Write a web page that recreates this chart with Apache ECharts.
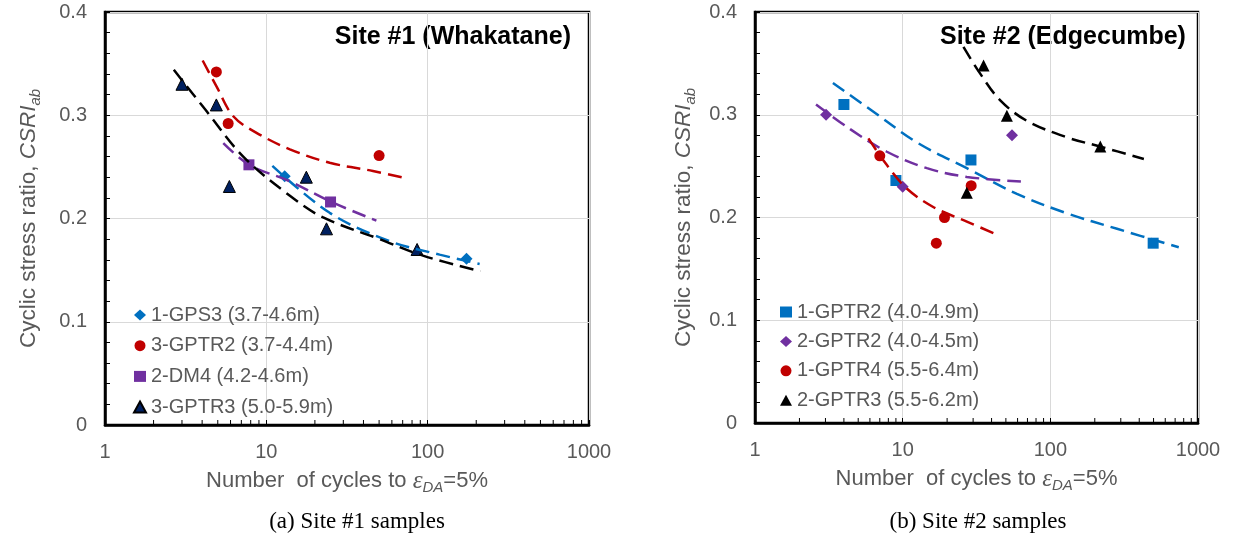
<!DOCTYPE html>
<html><head><meta charset="utf-8">
<script src="https://cdn.jsdelivr.net/npm/echarts@6/dist/echarts.min.js"></script>
<style>html,body{margin:0;padding:0;background:#fff}#c{width:1249px;height:542px}</style>
</head><body><div id="c"></div>
<script>
// ---- Site #1 (Whakatane) measured points [cycles, CSR] ----
const s1Names = ['1-GPS3 (3.7-4.6m)', '3-GPTR2 (3.7-4.4m)', '2-DM4 (4.2-4.6m)', '3-GPTR3 (5.0-5.9m)'];
const s1_GPS3  = [[13.0,0.241],[174,0.161]];
const s1_GPTR2 = [[4.9,0.342],[5.8,0.292],[50,0.261]];
const s1_DM4   = [[7.8,0.252],[25,0.216]];
const s1_GPTR3 = [[3.0,0.330],[4.9,0.310],[5.9,0.231],[17.7,0.240],[23.6,0.190],[86,0.170]];
// trend lines
const s1_GPS3_fit  = [[10.9,0.251],[24.7,0.2055],[58.2,0.178],[118.6,0.165],[210,0.156]];
const s1_GPTR2_fit = [[4.03,0.353],[4.91,0.328],[6.24,0.299],[8.69,0.283],[14.0,0.267],[24.7,0.254],[45.8,0.246],[73.1,0.239]];
const s1_DM4_fit   = [[5.41,0.273],[7.83,0.252],[14.0,0.236],[25.3,0.216],[48.1,0.198]];
const s1_GPTR3_fit = [[2.67,0.344],[4.16,0.306],[7.19,0.260],[14.0,0.222],[22.5,0.201],[50.5,0.180],[93.5,0.164],[212,0.149]];

// ---- Site #2 (Edgecumbe) ----
const s2Names = ['1-GPTR2 (4.0-4.9m)', '2-GPTR2 (4.0-4.5m)', '1-GPTR4 (5.5-6.4m)', '2-GPTR3 (5.5-6.2m)'];
const s2_1GPTR2 = [[4.0,0.310],[9.0,0.236],[29,0.256],[497,0.175]];
const s2_2GPTR2 = [[3.03,0.300],[10,0.230],[55,0.280]];
const s2_1GPTR4 = [[7.0,0.260],[16.9,0.175],[19.2,0.200],[29.1,0.231]];
const s2_2GPTR3 = [[27.2,0.224],[35.3,0.348],[50.8,0.299],[218,0.269]];
const s2_1GPTR2_fit = [[3.37,0.331],[6.34,0.303],[12.5,0.273],[27.2,0.248],[59.4,0.223],[129.7,0.204],[283,0.189],[741,0.171]];
const s2_2GPTR2_fit = [[2.59,0.310],[4.41,0.286],[7.82,0.264],[14.6,0.248],[27.2,0.2395],[63.2,0.235]];
const s2_1GPTR4_fit = [[5.86,0.277],[7.82,0.251],[10.7,0.228],[16.2,0.210],[27.2,0.196],[42.4,0.184]];
const s2_2GPTR3_fit = [[25.8,0.366],[33.5,0.340],[45.8,0.314],[69.5,0.294],[129.7,0.278],[218,0.269],[430,0.257]];

// axis ticks
const xMinorTicks = [2,3,4,5,6,7,8,9,20,30,40,50,60,70,80,90,200,300,400,500,600,700,800,900];
const captions = ['(a) Site #1 samples', '(b) Site #2 samples'];
const siteTitles = ['Site #1 (Whakatane)', 'Site #2 (Edgecumbe)'];

const FONT = '"Liberation Sans", Arial, sans-serif';
const SERIF = '"Liberation Serif", "Times New Roman", serif';
const GRAY = '#595959';
const C = {blue:'#0070C0', red:'#C00000', purple:'#7030A0', navy:'#002060', black:'#000000'};

function xAxisDef(gi){
  return {
    type:'log', logBase:10, min:1, max:1000, gridIndex:gi,
    axisLine:{show:true, lineStyle:{color:'#000', width:2.5}},
    axisTick:{show:true, inside:true, length:5, lineStyle:{color:'#000', width:1}},
    axisLabel:{color:GRAY, fontSize:20, fontFamily:FONT, margin:17, formatter:v=>String(v)},
    splitLine:{show:true, lineStyle:{color:'#D9D9D9', width:1}},
    name:'Number  of cycles to {e|ε}{s|DA}=5%',
    nameLocation:'middle', nameGap:42,
    nameTextStyle:{color:GRAY, fontSize:22, fontFamily:FONT,
      rich:{e:{fontSize:25, fontStyle:'italic', fontFamily:SERIF, color:GRAY},
            s:{fontSize:15, fontStyle:'italic', fontFamily:FONT, color:GRAY, padding:[13,0,0,0]}}}
  };
}
function yAxisDef(gi, gap){
  return {
    type:'value', min:0, max:0.4, interval:0.1, gridIndex:gi,
    axisLine:{show:true, lineStyle:{color:'#000', width:2.5}},
    axisTick:{show:true, inside:true, length:5, lineStyle:{color:'#000', width:1}},
    minorTick:{show:true, splitNumber:5, length:5, lineStyle:{color:'#000', width:1}},
    axisLabel:{color:GRAY, fontSize:20, fontFamily:FONT, margin:18,
      formatter:v=> v===0 ? '0' : String(+v.toFixed(1))},
    splitLine:{show:true, lineStyle:{color:'#D9D9D9', width:1}},
    name:'Cyclic stress ratio, {i|CSRI}{s|ab}',
    nameLocation:'middle', nameGap:gap,
    nameTextStyle:{color:GRAY, fontSize:22.5, fontFamily:FONT,
      rich:{i:{fontSize:22.5, fontStyle:'italic', fontFamily:FONT, color:GRAY},
            s:{fontSize:15, fontStyle:'italic', fontFamily:FONT, color:GRAY, padding:[13,0,0,0]}}}
  };
}
function scatter(name, gi, data, symbol, color, size, border){
  return {type:'scatter', name, xAxisIndex:gi, yAxisIndex:gi, data, symbol, symbolSize:size, z:3,
    itemStyle:{color, borderColor: border || color, borderWidth: border ? 1 : 0, opacity:1}};
}
function fit(gi, data, color){
  return {type:'line', xAxisIndex:gi, yAxisIndex:gi, data, smooth:0.35, symbol:'none', z:4, silent:true,
    lineStyle:{color, width:2.5, type:[14,7]}};
}
function minor(gi){
  return {type:'custom', xAxisIndex:gi, yAxisIndex:gi, silent:true, z:5,
    data: xMinorTicks.map(v=>[v,0]),
    renderItem:(params, api)=>{
      const p = api.coord([api.value(0), 0]);
      return {type:'line', shape:{x1:p[0], y1:p[1], x2:p[0], y2:p[1]-5}, style:{stroke:'#000', lineWidth:1}};
    }};
}
function legendDef(names, left, top, gap){
  return {data:names, orient:'vertical', left, top, padding:0, itemWidth:12, itemHeight:11, itemGap:gap,
    textStyle:{color:GRAY, fontSize:20, fontFamily:FONT}, selectedMode:false};
}

const chart = echarts.init(document.getElementById('c'), null, {renderer:'canvas'});
chart.setOption({
  backgroundColor:'#fff',
  animation:false,
  grid:[
    {left:105, top:12, width:484, height:413, show:true, borderColor:'#000', borderWidth:2.5, backgroundColor:'transparent'},
    {left:755, top:12, width:443, height:411, show:true, borderColor:'#000', borderWidth:2.5, backgroundColor:'transparent'}
  ],
  xAxis:[xAxisDef(0), xAxisDef(1)],
  yAxis:[yAxisDef(0, 62), yAxisDef(1, 57)],
  legend:[legendDef(s1Names, 133, 305, 10.7), legendDef(s2Names, 780, 302, 9.4)],
  graphic:[
    {type:'text', x:571, y:37, style:{text:siteTitles[0], fontSize:25, fontWeight:'bold', fontFamily:FONT, fill:'#000', align:'right', verticalAlign:'middle'}},
    {type:'text', x:940, y:37, style:{text:siteTitles[1], fontSize:25, fontWeight:'bold', fontFamily:FONT, fill:'#000', align:'left', verticalAlign:'middle'}},
    {type:'text', x:357, y:522, style:{text:captions[0], fontSize:23, fontFamily:SERIF, fill:'#000', align:'center', verticalAlign:'middle'}},
    {type:'text', x:978, y:522, style:{text:captions[1], fontSize:23, fontFamily:SERIF, fill:'#000', align:'center', verticalAlign:'middle'}}
  ],
  series:[
    scatter(s1Names[0], 0, s1_GPS3, 'diamond', C.blue, 12),
    scatter(s1Names[1], 0, s1_GPTR2, 'circle', C.red, 11),
    scatter(s1Names[2], 0, s1_DM4, 'rect', C.purple, 11),
    scatter(s1Names[3], 0, s1_GPTR3, 'triangle', C.navy, 12, '#000'),
    fit(0, s1_GPS3_fit, C.blue),
    fit(0, s1_GPTR2_fit, C.red),
    fit(0, s1_DM4_fit, C.purple),
    fit(0, s1_GPTR3_fit, C.black),
    minor(0),
    scatter(s2Names[0], 1, s2_1GPTR2, 'rect', C.blue, 11),
    scatter(s2Names[1], 1, s2_2GPTR2, 'diamond', C.purple, 12),
    scatter(s2Names[2], 1, s2_1GPTR4, 'circle', C.red, 11),
    scatter(s2Names[3], 1, s2_2GPTR3, 'triangle', C.black, 12),
    fit(1, s2_1GPTR2_fit, C.blue),
    fit(1, s2_2GPTR2_fit, C.purple),
    fit(1, s2_1GPTR4_fit, C.red),
    fit(1, s2_2GPTR3_fit, C.black),
    minor(1)
  ]
});
</script></body></html>
